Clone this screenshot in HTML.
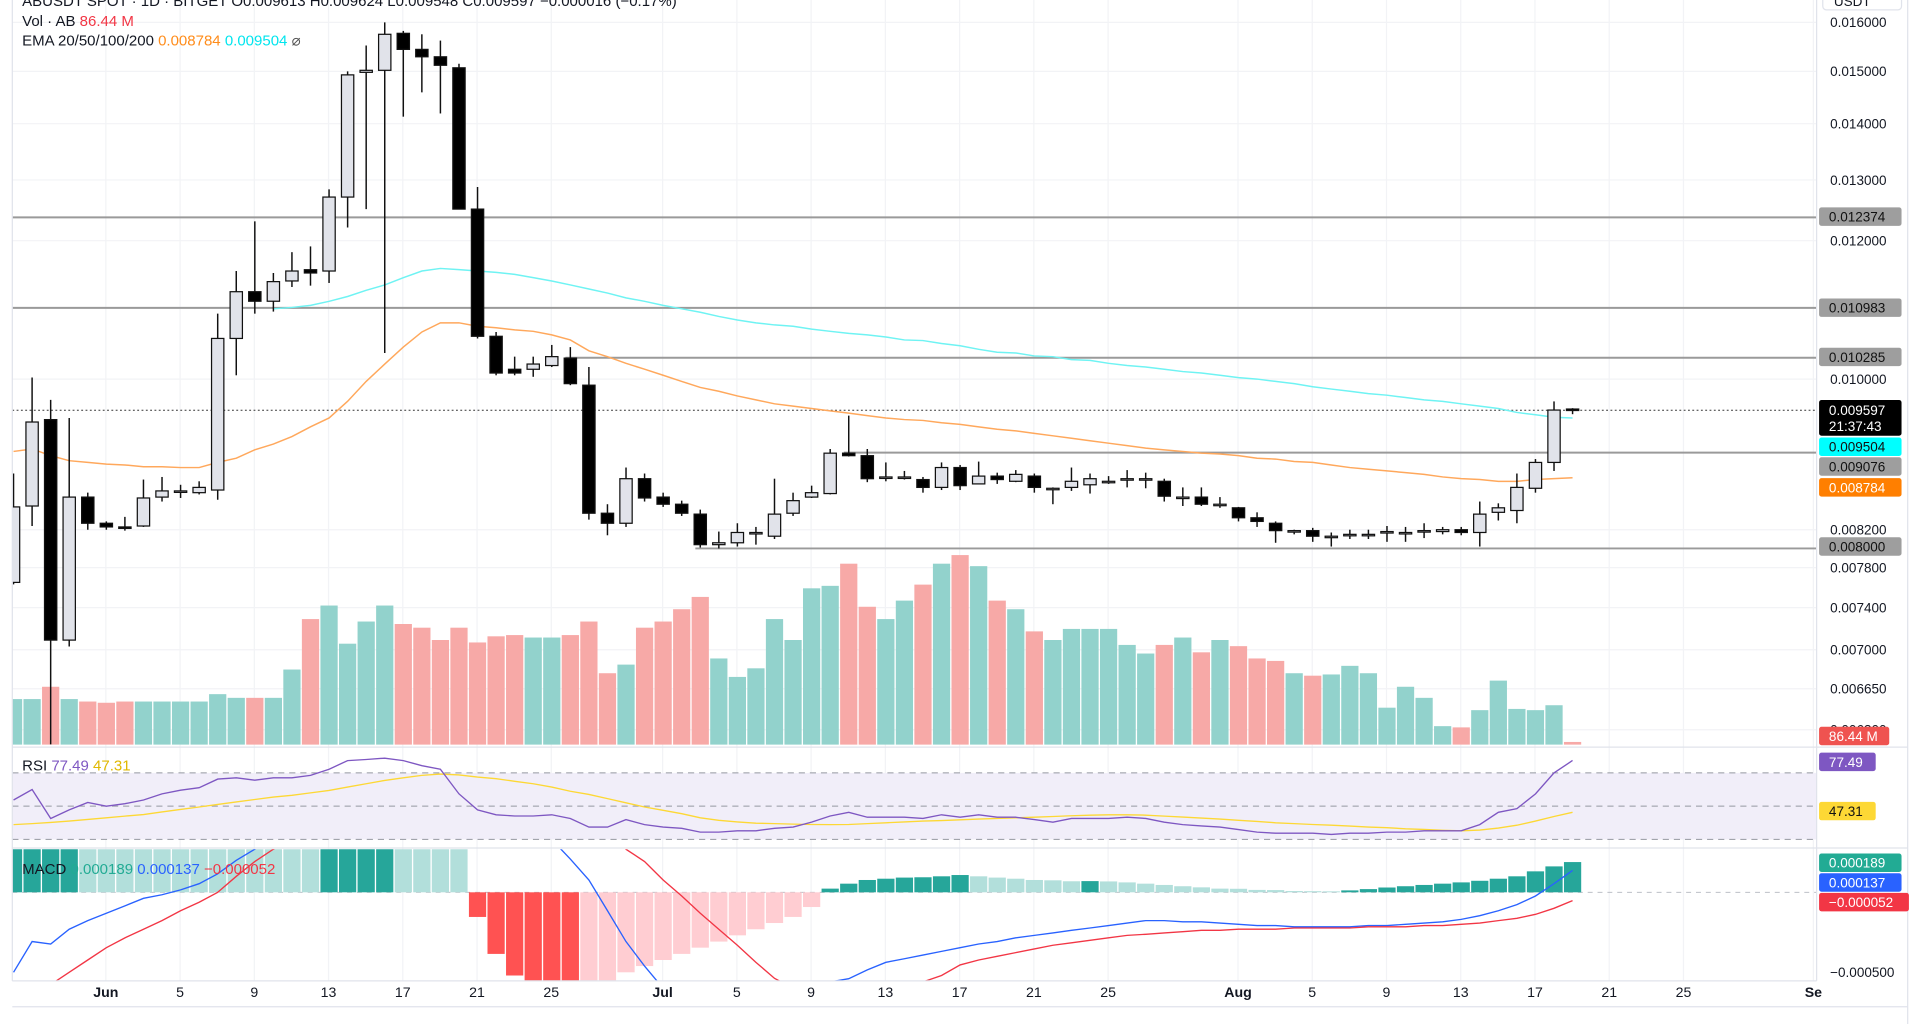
<!DOCTYPE html>
<html><head><meta charset="utf-8"><style>
html,body{margin:0;padding:0;background:#fff;width:1920px;height:1024px;overflow:hidden}
svg{display:block;font-family:"Liberation Sans",sans-serif}
</style></head><body>
<svg id="chart" width="1920" height="1024" viewBox="0 0 1560 832" preserveAspectRatio="none" xmlns="http://www.w3.org/2000/svg">
<defs>
<clipPath id="cMain"><rect x="10" y="0" width="1466" height="606"/></clipPath>
<clipPath id="cRsi"><rect x="10" y="608" width="1466" height="80"/></clipPath>
<clipPath id="cMacd"><rect x="10" y="690" width="1466" height="107"/></clipPath>
</defs>
<g id="grid"></g>
<g id="levels"></g>
<g id="vol" clip-path="url(#cMain)"></g>
<g id="ema" clip-path="url(#cMain)"></g>
<g id="candles" clip-path="url(#cMain)"></g>
<g id="rsi"></g>
<g id="macd"></g>
<g id="axes"></g>
<g id="labels"></g>
<g font-size="12.2" fill="#131722">
<text x="18" y="5">ABUSDT SPOT · 1D · BITGET   O0.009613  H0.009624  L0.009548  C0.009597  −0.000016 (−0.17%)</text>
<text x="18" y="21">Vol · AB  <tspan fill="#f23645">86.44 M</tspan></text>
<text x="18" y="37">EMA 20/50/100/200  <tspan fill="#ff8c1a">0.008784</tspan>  <tspan fill="#00e5ee">0.009504</tspan>  <tspan fill="#555">⌀</tspan></text>
<text x="18" y="626">RSI  <tspan fill="#7e57c2">77.49</tspan>  <tspan fill="#e0b800">47.31</tspan></text>
<text x="18" y="710">MACD  <tspan fill="#22ab94">0.000189</tspan>  <tspan fill="#2962ff">0.000137</tspan>  <tspan fill="#f23645">−0.000052</tspan></text>
</g>
<g><rect x="1481" y="-6" width="64" height="14" rx="3" fill="#fff" stroke="#e0e3eb"/><text x="1490" y="5" font-size="11" fill="#131722">USDT</text></g>
</svg>
<script>
const opens=[0.00765,0.00846,0.00948,0.00709,0.00856,0.00827,0.00823,0.00824,0.00856,0.00863,0.00861,0.00864,0.01055,0.01122,0.01108,0.01138,0.01155,0.01153,0.01271,0.01498,0.01502,0.01577,0.01544,0.01529,0.01507,0.01251,0.01058,0.01013,0.01013,0.01018,0.01028,0.00992,0.00838,0.00827,0.00877,0.00856,0.00848,0.00837,0.00804,0.00806,0.00817,0.00813,0.00838,0.00856,0.00860,0.00907,0.00904,0.00879,0.00879,0.00876,0.00867,0.00890,0.00871,0.00880,0.00874,0.00880,0.00866,0.00867,0.00870,0.00874,0.00877,0.00877,0.00874,0.00856,0.00856,0.00848,0.00844,0.00833,0.00827,0.00819,0.00819,0.00813,0.00815,0.00815,0.00818,0.00817,0.00819,0.00818,0.00820,0.00817,0.00839,0.00841,0.00866,0.00896,0.009613];
const highs=[0.00883,0.01002,0.00973,0.00950,0.00861,0.00829,0.00834,0.00876,0.00879,0.00870,0.00874,0.01090,0.01153,0.01231,0.01150,0.01182,0.01191,0.01284,0.01500,0.01552,0.01600,0.01582,0.01575,0.01562,0.01515,0.01288,0.01064,0.01030,0.01030,0.01046,0.01043,0.01016,0.00848,0.00890,0.00883,0.00861,0.00852,0.00842,0.00818,0.00827,0.00823,0.00877,0.00861,0.00869,0.00912,0.00953,0.00912,0.00896,0.00886,0.00879,0.00896,0.00893,0.00897,0.00884,0.00887,0.00883,0.00867,0.00890,0.00883,0.00880,0.00887,0.00884,0.00877,0.00867,0.00867,0.00856,0.00845,0.00839,0.00829,0.00820,0.00822,0.00817,0.00820,0.00820,0.00824,0.00823,0.00827,0.00823,0.00823,0.00851,0.00849,0.00883,0.00900,0.00971,0.009624];
const lows=[0.00763,0.00824,0.00618,0.00703,0.00820,0.00820,0.00819,0.00823,0.00851,0.00855,0.00859,0.00853,0.01005,0.01090,0.01093,0.01129,0.01131,0.01135,0.01221,0.01251,0.01035,0.01413,0.01459,0.01419,0.01251,0.01055,0.01005,0.01005,0.01003,0.01016,0.00992,0.00831,0.00814,0.00823,0.00851,0.00845,0.00835,0.00801,0.00800,0.00802,0.00804,0.00810,0.00835,0.00855,0.00859,0.00903,0.00873,0.00874,0.00876,0.00861,0.00864,0.00864,0.00871,0.00871,0.00873,0.00861,0.00848,0.00863,0.00860,0.00871,0.00867,0.00866,0.00851,0.00846,0.00846,0.00844,0.00829,0.00823,0.00806,0.00815,0.00807,0.00802,0.00810,0.00810,0.00807,0.00807,0.00811,0.00815,0.00814,0.00802,0.00830,0.00827,0.00861,0.00886,0.009548];
const closes=[0.00845,0.00945,0.00709,0.00856,0.00827,0.00823,0.00822,0.00855,0.00863,0.00863,0.00867,0.01055,0.01122,0.01108,0.01137,0.01153,0.01150,0.01271,0.01493,0.01502,0.01575,0.01544,0.01529,0.01512,0.01251,0.01058,0.01008,0.01008,0.01020,0.01030,0.00994,0.00838,0.00827,0.00877,0.00855,0.00848,0.00838,0.00804,0.00806,0.00817,0.00817,0.00837,0.00852,0.00861,0.00907,0.00904,0.00877,0.00879,0.00879,0.00867,0.00890,0.00869,0.00880,0.00876,0.00882,0.00867,0.00866,0.00874,0.00877,0.00874,0.00877,0.00877,0.00857,0.00856,0.00848,0.00848,0.00833,0.00829,0.00819,0.00819,0.00813,0.00813,0.00815,0.00815,0.00818,0.00817,0.00819,0.00820,0.00817,0.00837,0.00844,0.00867,0.00896,0.00960,0.009597];
const volumesM=[1480,1480,1880,1480,1400,1360,1400,1400,1400,1400,1400,1640,1520,1520,1520,2440,4080,4520,3280,4000,4520,3920,3800,3400,3800,3320,3520,3560,3480,3480,3560,4000,2320,2600,3800,4000,4400,4800,2800,2200,2480,4080,3400,5080,5160,5880,4480,4080,4680,5200,5880,6160,5800,4680,4400,3680,3400,3760,3760,3760,3240,2960,3240,3480,3000,3400,3200,2800,2720,2320,2240,2280,2560,2320,1200,1880,1520,600,560,1120,2080,1160,1120,1280,86.44];
const ema20=[0.00909,0.00912,0.00904,0.00898,0.00896,0.00894,0.00893,0.00891,0.00891,0.00890,0.00890,0.00896,0.00901,0.00911,0.00918,0.00927,0.00939,0.00950,0.00971,0.00997,0.01020,0.01043,0.01064,0.01077,0.01077,0.01072,0.01070,0.01067,0.01065,0.01060,0.01053,0.01038,0.01030,0.01021,0.01013,0.01005,0.00997,0.00989,0.00984,0.00978,0.00973,0.00968,0.00965,0.00962,0.00959,0.00956,0.00953,0.00950,0.00948,0.00947,0.00944,0.00942,0.00939,0.00936,0.00934,0.00931,0.00928,0.00925,0.00922,0.00919,0.00916,0.00913,0.00911,0.00909,0.00907,0.00906,0.00904,0.00901,0.00900,0.00897,0.00896,0.00893,0.00890,0.00888,0.00886,0.00884,0.00882,0.00879,0.00877,0.00876,0.00874,0.00874,0.00876,0.00877,0.00878];
const ema50=[null,null,null,null,null,null,null,null,null,null,null,null,null,null,0.01097,0.01099,0.01102,0.01108,0.01115,0.01124,0.01132,0.01143,0.01153,0.01157,0.01155,0.01153,0.01151,0.01148,0.01143,0.01138,0.01132,0.01126,0.01120,0.01113,0.01108,0.01102,0.01097,0.01092,0.01086,0.01081,0.01077,0.01074,0.01072,0.01068,0.01065,0.01062,0.01060,0.01057,0.01053,0.01052,0.01048,0.01045,0.01040,0.01036,0.01035,0.01031,0.01030,0.01026,0.01025,0.01021,0.01018,0.01016,0.01013,0.01010,0.01008,0.01005,0.01002,0.01000,0.00997,0.00994,0.00990,0.00987,0.00984,0.00981,0.00979,0.00976,0.00973,0.00971,0.00968,0.00965,0.00962,0.00957,0.00954,0.00951,0.00950];
const rsiVals=[53.7,60,42.6,47.8,52.2,50,51.5,53.7,57.4,59.6,61.1,66.3,67,65.6,67,67,68.5,72.2,77.4,78.1,78.9,77.4,74.4,72.2,57.4,47.8,44.8,44.1,44.1,44.8,42.6,37.4,37.4,41.9,38.9,37.4,36.7,34.4,34.4,35.2,35.2,36.7,37.4,40.4,44.1,46.3,43.3,43.3,43.3,42.6,44.8,43.3,44.8,43.3,43.3,41.9,40.4,42.6,42.6,42.6,43.3,42.6,40.4,38.9,38.1,37.4,35.9,34.4,33.7,33.7,33.7,33,33.7,33.7,34.4,34.4,35.2,35.2,35.2,38.9,46.3,48.5,57.4,70,77.49];
const rsiMa=[38.9,39.5,40.2,41,42,43,44,45,46.5,48,49.5,51,52.5,54,55.5,56.5,58,59.5,61.5,63.5,65.5,67,68.5,69.3,68.8,67.5,66.5,65,63.5,61.5,59,57,54.5,52,49.5,47.5,45.5,43,41.5,40.5,39.8,39.5,39.2,39,38.9,39,39.5,40,40.5,41,41.3,41.8,42.2,42.6,43,43.3,43.8,44.2,44.6,44.8,44.8,44.6,44,43.4,42.8,42.2,41.5,40.8,40,39.5,39,38.5,38,37.4,37,36.4,36,35.5,35.2,35.6,36.8,38.5,41,43.8,46.3];
const macdMicro=[-500,-308,-323,-231,-177,-131,-85,-38,-15,15,54,115,200,269,350,430,520,620,740,860,990,1080,1120,1130,1100,1000,880,760,640,330,208,77,-115,-308,-461,-600,-700,-770,-800,-790,-760,-720,-680,-620,-560,-540,-485,-438,-415,-392,-369,-346,-323,-308,-285,-269,-254,-238,-223,-208,-192,-177,-177,-185,-185,-192,-200,-208,-208,-215,-215,-215,-215,-208,-208,-200,-192,-185,-169,-146,-115,-77,-23,54,137];
const signalMicro=[-808,-692,-577,-500,-423,-346,-285,-231,-177,-115,-62,0,100,192,269,330,390,450,520,590,660,730,800,850,890,910,910,890,860,810,740,640,510,269,192,77,-23,-131,-231,-331,-438,-538,-600,-630,-640,-640,-630,-610,-590,-560,-520,-454,-423,-400,-377,-354,-331,-315,-300,-285,-269,-262,-254,-246,-238,-238,-231,-231,-231,-223,-223,-223,-223,-215,-215,-215,-208,-208,-200,-192,-177,-162,-138,-100,-52];
const histMicro=[300,360,400,430,420,410,400,390,380,370,360,350,340,330,320,300,290,310,330,350,370,360,330,300,280,-154,-385,-520,-560,-600,-620,-600,-560,-500,-461,-423,-385,-346,-308,-269,-231,-192,-154,-92,23,54,77,85,92,94,100,108,100,92,85,77,75,69,70,68,62,54,46,38,31,23,22,15,14,8,7,6,12,20,30,38,46,54,62,72,85,100,131,162,189];
const priceTicks=[0.016,0.015,0.014,0.013,0.012,0.010,0.0082,0.0078,0.0074,0.007,0.00665,0.0063];
const levelPrices=[0.012374,0.010983,0.010285,0.009076,0.008];
const levelStartIdx=[0,0,30,45,37];
const dateLabels=["Jun","5","9","13","17","21","25","Jul","5","9","13","17","21","25","Aug","5","9","13","17","21","25","Se"];
const dateDays=[0,4,8,12,16,20,24,30,34,38,42,46,50,54,61,65,69,73,77,81,85,92];
const monthFlags=[1,0,0,0,0,0,0,1,0,0,0,0,0,0,1,0,0,0,0,0,0,1];

const NS="http://www.w3.org/2000/svg";
const PX=15.08;
function xOf(i){return 11+PX*i;}
function xDay(d){return 86+PX*d;}
function yP(p){return 308+(-2-Math.log10(p))*1420;}
function yVol(v){return 605-v/40;}
function yRsi(r){return 655-(r-50)*1.35;}
function yMacd(m){return 725-m*0.13;}
function mk(tag,attrs,parent){const e=document.createElementNS(NS,tag);for(const k in attrs)e.setAttribute(k,attrs[k]);parent.appendChild(e);return e;}
const G=id=>document.getElementById(id);

const grid=G('grid');
priceTicks.forEach(p=>{const l=mk('line',{x1:10,x2:1476,y1:yP(p),y2:yP(p),stroke:'#f2f3f6','stroke-width':1},grid);

});
dateDays.forEach(d=>{const l=mk('line',{x1:xDay(d),x2:xDay(d),y1:0,y2:797,stroke:'#f2f3f6','stroke-width':1},grid);

});

const ax=G('axes');
[[10,0,10,797],[1476,0,1476,797],[1550,0,1550,832],[10,607,1550,607],[10,689,1550,689],[10,797,1476,797],[10,818,1550,818]].forEach(a=>{const l=mk('line',{x1:a[0],y1:a[1],x2:a[2],y2:a[3],stroke:'#e0e3eb','stroke-width':1},ax);

});

const lv=G('levels');
levelPrices.forEach((p,k)=>{const l=mk('line',{x1:Math.max(10,xOf(levelStartIdx[k])-4),x2:1476,y1:yP(p),y2:yP(p),stroke:'#9a9a9a','stroke-width':1.6},lv);

});
const cur=mk('line',{x1:10,x2:1476,y1:yP(closes[closes.length-1]),y2:yP(closes[closes.length-1]),stroke:'#333','stroke-width':0.8,'stroke-dasharray':'1.5,2'},lv);



const vg=G('vol');
volumesM.forEach((v,i)=>{const up=closes[i]>=opens[i];const r=mk('rect',{x:xOf(i)-7,y:yVol(v),width:14,height:605-yVol(v),fill:up?'#92d2cc':'#f7a9a7'},vg);

});

function path(arr,fx,fy){let s='';let pen=false;arr.forEach((v,i)=>{if(v==null){pen=false;return;}s+=(pen?'L':'M')+fx(i).toFixed(1)+','+fy(v).toFixed(1);pen=true;});return s;}
const eg=G('ema');
const e1=mk('path',{d:path(ema20,xOf,yP),fill:'none',stroke:'#ffa85c','stroke-width':1.2},eg);


const e2=mk('path',{d:path(ema50,xOf,yP),fill:'none',stroke:'#6ff3f3','stroke-width':1.2},eg);



const cg=G('candles');
opens.forEach((o,i)=>{const c=closes[i],x=xOf(i),up=c>=o;
const w=mk('line',{x1:x,x2:x,y1:yP(highs[i]),y2:yP(lows[i]),stroke:'#111','stroke-width':1.2},cg);


const top=yP(Math.max(o,c)),bot=yP(Math.min(o,c));
const b=mk('rect',{x:x-5,y:top,width:10,height:Math.max(1.2,bot-top),fill:up?'#e1e3ea':'#000',stroke:'#111','stroke-width':1},cg);

});

const rg=G('rsi');
const band=mk('rect',{x:10,y:yRsi(70),width:1466,height:yRsi(30)-yRsi(70),fill:'#f1eef9'},rg);


[70,50,30].forEach(v=>{const l=mk('line',{x1:10,x2:1476,y1:yRsi(v),y2:yRsi(v),stroke:'#9598a1','stroke-width':0.8,'stroke-dasharray':'5,4'},rg);

});
const rsub=mk('g',{'clip-path':'url(#cRsi)'},rg);
const rm=mk('path',{d:path(rsiMa,xOf,yRsi),fill:'none',stroke:'#fdd835','stroke-width':1.1},rsub);


const rl=mk('path',{d:path(rsiVals,xOf,yRsi),fill:'none',stroke:'#7e57c2','stroke-width':1.1},rsub);



const mg=G('macd');
const zl=mk('line',{x1:10,x2:1476,y1:yMacd(0),y2:yMacd(0),stroke:'#b2b5be','stroke-width':0.8,'stroke-dasharray':'4,4'},mg);


const msub=mk('g',{'clip-path':'url(#cMacd)'},mg);
histMicro.forEach((h,i)=>{const prev=i>0?histMicro[i-1]:h;let col;
if(h>=0)col=(h>=prev)?'#26a69a':'#b2dfdb';else col=(h<=prev)?'#ff5252':'#ffcdd2';
const y0=yMacd(0),y1=yMacd(h);
const r=mk('rect',{x:xOf(i)-7,y:Math.min(y0,y1),width:14,height:Math.abs(y1-y0),fill:col},msub);

});
const ml=mk('path',{d:path(macdMicro,xOf,yMacd),fill:'none',stroke:'#2962ff','stroke-width':1.1},msub);


const sl=mk('path',{d:path(signalMicro,xOf,yMacd),fill:'none',stroke:'#f23645','stroke-width':1.1},msub);



const lb=G('labels');
priceTicks.forEach(p=>{const t=mk('text',{x:1487,y:yP(p)+4,'font-size':11,fill:'#131722'},lb);t.textContent=p.toFixed(6);

});
dateLabels.forEach((s,k)=>{const t=mk('text',{x:xDay(dateDays[k]),y:810,'font-size':11.5,'text-anchor':'middle',fill:'#131722','font-weight':monthFlags[k]?'bold':'normal'},lb);t.textContent=s;

});
const mt=mk('text',{x:1487,y:yMacd(-500)+4,'font-size':11,fill:'#131722'},lb);mt.textContent='−0.000500';


function badge(y,txt,bg,fg,w,name){const g=mk('g',{},lb);


mk('rect',{x:1478,y:y-7.5,width:w||67,height:15,rx:2,fill:bg},g);
const t=mk('text',{x:1486,y:y+4,'font-size':11,fill:fg},g);t.textContent=txt;}
badge(176,'0.012374','#9e9e9e','#111',67,'level-label-0');
badge(250,'0.010983','#9e9e9e','#111',67,'level-label-1');
badge(290,'0.010285','#9e9e9e','#111',67,'level-label-2');
badge(444,'0.008000','#9e9e9e','#111',67,'level-label-4');
{const g=mk('g',{},lb);


mk('rect',{x:1478,y:325,width:67,height:29,rx:2,fill:'#000'},g);
const t1=mk('text',{x:1486,y:337,'font-size':11,fill:'#fff'},g);t1.textContent='0.009597';
const t2=mk('text',{x:1486,y:350,'font-size':11,fill:'#fff'},g);t2.textContent='21:37:43';}
badge(363,'0.009504','#00ffff','#111',67,'ema50-label');
badge(379,'0.009076','#9e9e9e','#111',67,'level-label-3');
badge(396,'0.008784','#ff7f00','#fff',67,'ema20-label');
badge(598,'86.44 M','#ef5350','#fff',57,'volume-label');
badge(619,'77.49','#7e57c2','#fff',46,'rsi-label');
badge(659,'47.31','#fdd835','#111',46,'rsi-ma-label');
badge(701,'0.000189','#22ab94','#fff',67,'histogram-label');
badge(717,'0.000137','#2962ff','#fff',67,'macd-label');
badge(733,'−0.000052','#f23645','#fff',73,'signal-label');
</script>
</body></html>
